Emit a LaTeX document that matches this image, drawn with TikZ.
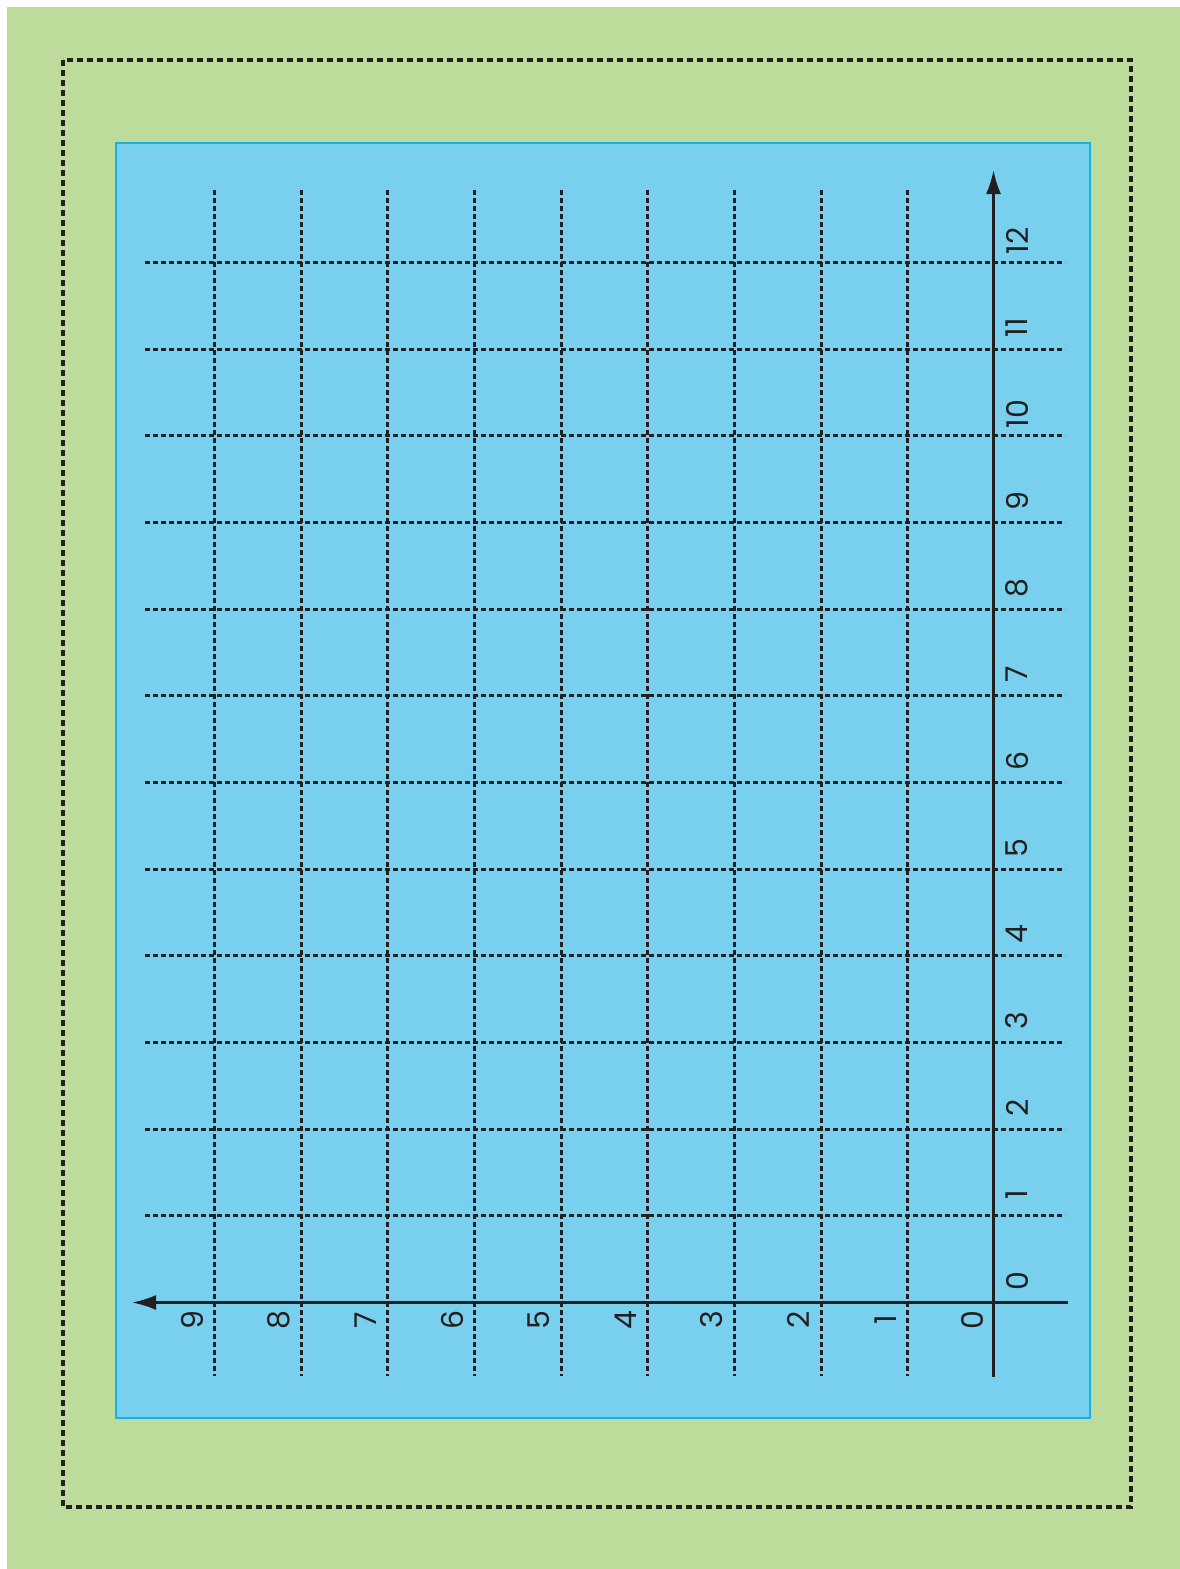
\documentclass[tikz,border=0pt]{standalone}
\usepackage{fontspec}
\setmainfont{Poppins}
\usetikzlibrary{arrows.meta}
\definecolor{bggreen}{HTML}{BDDC9C}
\definecolor{panelblue}{HTML}{79D0EE}
\definecolor{panelborder}{HTML}{14B0E6}
\definecolor{ink}{HTML}{231F20}
\tikzset{
  gridline/.style={ink, line width=3pt, dash pattern=on 5pt off 3pt},
  outerline/.style={ink, line width=3.5pt, dash pattern=on 6pt off 4pt},
  axisline/.style={ink, line width=2.6pt},
  axisarrow/.style={axisline, -{Latex[length=24pt,width=15pt]}},
  ticklabel/.style={ink, rotate=90, font=\fontsize{30}{30}\selectfont, inner sep=0pt},
}
\begin{document}
\begin{tikzpicture}[x=1pt,y=-1pt]
\useasboundingbox (0,0) rectangle (1180,1569);
\fill[white] (0,0) rectangle (1180,1569);
\fill[bggreen] (7,7) rectangle (1180,1569);
\draw[outerline] (63,60) rectangle (1131,1507);
\draw[panelborder, fill=panelblue, line width=2pt] (116,143) rectangle (1090,1418);
% horizontal grid lines (k = 1..12)
\foreach \k in {1,...,12}{
  \pgfmathsetmacro{\yy}{round(1302-\k*86.67)+0.5}
  \draw[gridline] (145,\yy) -- (1065,\yy);
}
% vertical grid lines (k = 1..9)
\foreach \k in {1,...,9}{
  \pgfmathsetmacro{\xx}{round(994-\k*86.67)+0.5}
  \draw[gridline] (\xx,190) -- (\xx,1376);
}
% axes
\coordinate (vbot) at (993.5,1377);
\coordinate (vtop) at (993.5,170);
\coordinate (hright) at (1068,1302.5);
\coordinate (hleft) at (132,1302.5);
\draw[axisarrow] (vbot) -- (vtop);
\draw[axisarrow] (hright) -- (hleft);
% labels along vertical axis
\foreach \k in {0,...,12}{
  \node[ticklabel] (lv\k) at (1017,{1302-\k*86.67-21}) {\k};
}
% labels along horizontal axis
\foreach \k in {0,...,9}{
  \node[ticklabel] (lh\k) at ({993-\k*86.67-21},1320) {\k};
}
\end{tikzpicture}
\end{document}
